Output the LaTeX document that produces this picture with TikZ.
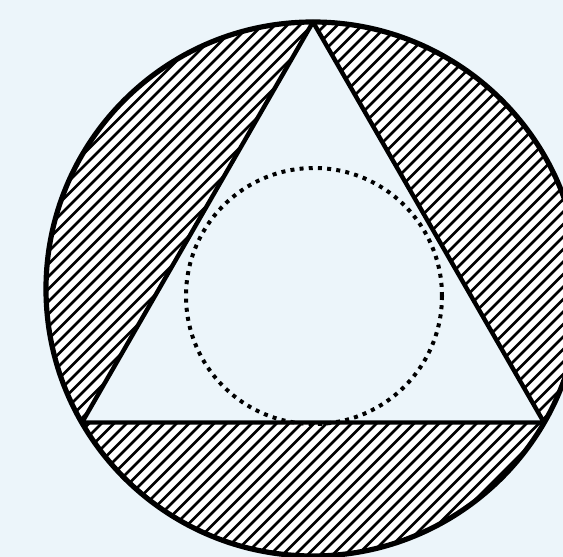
\documentclass[tikz,border=0pt]{standalone}
\definecolor{paper}{RGB}{236,245,250}
\tikzset{
  rim/.style={draw=black,line width=2.6pt},
  edge/.style={draw=black,line width=2.2pt,line join=round},
  hatch/.style={draw=black,line width=1.4pt},
  dotring/.style={draw=black,line width=2pt,dash pattern=on 2pt off 2.6pt}
}
\begin{document}
\begin{tikzpicture}[x=0.5pt,y=-0.5pt]
\useasboundingbox (0,0) rectangle (563,557);
\fill[paper] (0,0) rectangle (563,557);
\clip (0,0) rectangle (563,557);
% circle and triangle
\coordinate (O) at (313,289);
\coordinate (A) at (313,22);
\coordinate (B) at (82,422.5);
\coordinate (C) at (544,422.5);
\fill[white] (O) circle (267);
\fill[paper] (A) -- (B) -- (C) -- cycle;
% hatching between them
\begin{scope}[even odd rule]
\clip (O) circle (267) (A) -- (B) -- (C) -- cycle;
\foreach \k in {-600,-587.5,...,1200}
  \draw[hatch] (\k,600) -- ++(620,-620);
\end{scope}
\draw[rim] (O) circle (267);
\draw[edge] (A) -- (B) -- (C) -- cycle;
% inscribed circle
\draw[dotring] (314,296) circle (128);
\end{tikzpicture}
\end{document}
